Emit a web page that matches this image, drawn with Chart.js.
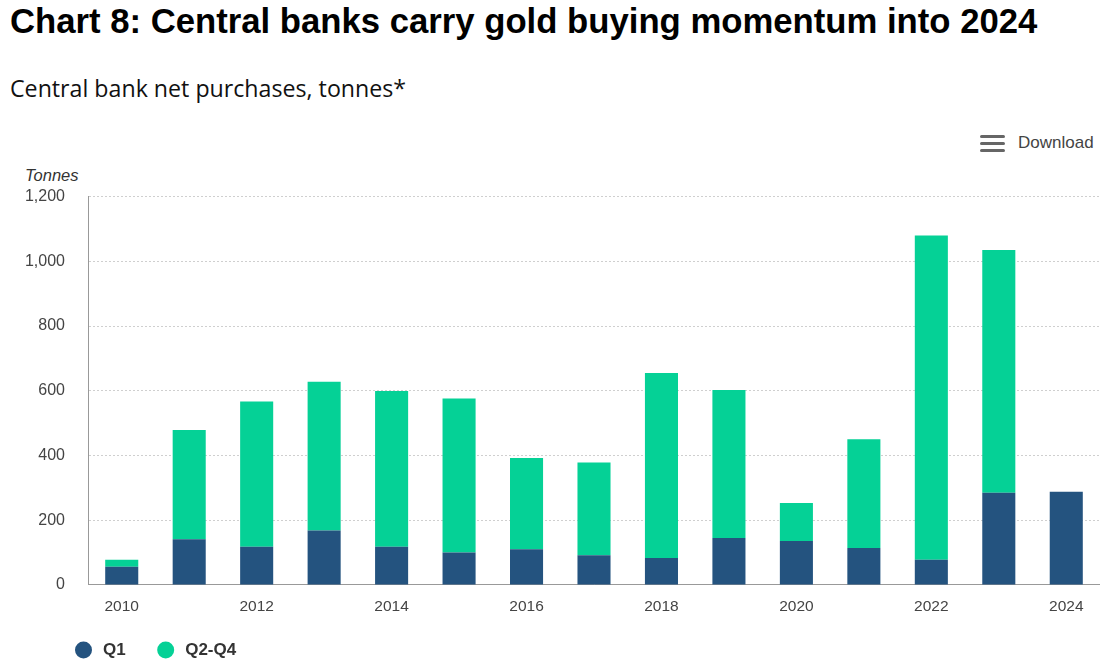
<!DOCTYPE html>
<html>
<head>
<meta charset="utf-8">
<script src="https://cdn.jsdelivr.net/npm/chart.js@4/dist/chart.umd.min.js"></script>
<style>
  html, body { margin: 0; padding: 0; background: #fff; }
  #wrap { position: relative; width: 1100px; height: 671px; overflow: hidden; }
  #title { position: absolute; left: 10px; top: 2px; font: bold 34.7px "Liberation Sans", Arial, sans-serif; color: #000; white-space: nowrap; }
  #subtitle { position: absolute; left: 10px; top: 72px; font: 23.2px "Open Sans", sans-serif; color: #111; white-space: nowrap; }
  #download { position: absolute; left: 980px; top: 132px; font: 17px "Liberation Sans", Arial, sans-serif; color: #444; }
  #download .ico { position: absolute; left: 0; top: 3px; width: 25px; }
  #download .ico div { height: 3px; background: #666; border-radius: 2px; margin-bottom: 4px; }
  #download span { position: absolute; left: 38px; top: 1px; white-space: nowrap; }
  #unit { position: absolute; left: 25px; top: 166px; font: italic 16.5px "Liberation Sans", Arial, sans-serif; color: #333; }
  #box { position: absolute; left: 0; top: 164px; width: 1100px; height: 507px; }
</style>
</head>
<body>
<div id="wrap">
  <div id="title">Chart 8: Central banks carry gold buying momentum into 2024</div>
  <div id="subtitle">Central bank net purchases, tonnes*</div>
  <div id="download"><div class="ico"><div></div><div></div><div></div></div><span>Download</span></div>
  <div id="unit">Tonnes</div>
  <div id="box"><canvas id="chart"></canvas></div>
</div>
<script>
// years and tonnes per year
const years = ['2010','2011','2012','2013','2014','2015','2016','2017','2018','2019','2020','2021','2022','2023','2024'];
const q1 = [56, 141, 118, 168, 118, 100, 110, 92, 83, 145, 136, 114, 78, 285, 288];
const q2q4 = [22, 338, 449, 460, 481, 476, 282, 286, 572, 457, 117, 336, 1002, 750, null];
const yTicks = [0, 200, 400, 600, 800, 1000, 1200];

const blue = '#24537f';
const green = '#05d196';

// legend drawn under the chart, circles + bold labels
const bottomLegend = {
  id: 'bottomLegend',
  afterDraw(chart) {
    const ctx = chart.ctx;
    let x = 75;
    const y = 486;
    ctx.save();
    ctx.font = 'bold 17px "Liberation Sans", Arial, sans-serif';
    ctx.textBaseline = 'middle';
    chart.data.datasets.forEach(ds => {
      ctx.fillStyle = ds.backgroundColor;
      ctx.beginPath();
      ctx.arc(x + 8.5, y, 8.5, 0, Math.PI * 2);
      ctx.fill();
      ctx.fillStyle = '#333';
      ctx.fillText(ds.label, x + 28, y);
      x += 28 + ctx.measureText(ds.label).width + 31.5;
    });
    ctx.restore();
  }
};

var chart = new Chart(document.getElementById('chart'), {
  type: 'bar',
  data: {
    labels: years,
    datasets: [{
      label: 'Q1',
      data: q1,
      backgroundColor: blue,
      categoryPercentage: 1,
      barPercentage: 0.49
    },
    {
      label: 'Q2-Q4',
      data: q2q4,
      backgroundColor: green,
      categoryPercentage: 1,
      barPercentage: 0.49
    }]
  },
  plugins: [bottomLegend],
  options: {
    responsive: true,
    maintainAspectRatio: false,
    animation: false,
    layout: { padding: { top: 2, right: 0, left: 0, bottom: 41.5 } },
    plugins: {
      tooltip: { enabled: false },
      legend: { display: false }
    },
    scales: {
      x: {
        stacked: true,
        grid: { display: false, drawTicks: false },
        border: { display: true, color: '#999', width: 1 },
        ticks: {
          autoSkip: false,
          maxRotation: 0,
          padding: 13,
          color: '#444',
          font: { family: 'Liberation Sans', size: 15.5 },
          callback: function(v, i) { return i % 2 === 0 ? years[i] : ''; }
        }
      },
      y: {
        stacked: true,
        min: 0,
        max: 1200,
        afterBuildTicks: function(s) { s.ticks = yTicks.map(v => ({ value: v })); },
        afterFit: function(s) { s.width = 88; },
        grid: { color: '#cfcfcf', drawTicks: false },
        border: { display: true, color: '#999', width: 1, dash: [2, 2] },
        ticks: {
          padding: 23,
          color: '#444',
          font: { family: 'Liberation Sans', size: 16 },
          callback: function(v) { return v.toLocaleString('en-US'); }
        }
      }
    }
  }
});
</script>
</body>
</html>
